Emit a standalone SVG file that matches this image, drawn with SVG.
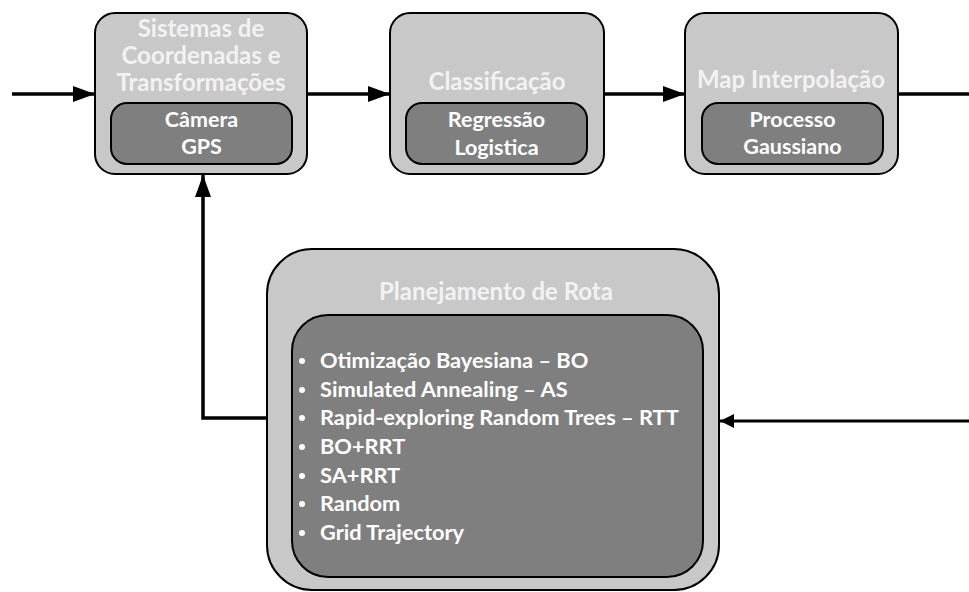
<svg xmlns="http://www.w3.org/2000/svg" width="969" height="592" viewBox="0 0 969 592">
  <defs>
    <style>
      .outer { fill: #c8c8c8; stroke: #000; stroke-width: 2; }
      .inner { fill: #7f7f7f; stroke: #000; stroke-width: 2; }
      .title { font-family: Lato, "Open Sans", sans-serif; font-weight: bold; font-size: 24px; fill: #f2f2f2; text-anchor: middle; }
      .sub { font-family: Lato, "Open Sans", sans-serif; font-weight: bold; font-size: 21.5px; fill: #ffffff; text-anchor: middle; }
      .item { font-family: Lato, "Open Sans", sans-serif; font-weight: bold; font-size: 21.8px; fill: #ffffff; }
      .wire { fill: none; stroke: #000; stroke-width: 3.5; }
      .wire-thin { fill: none; stroke: #000; stroke-width: 3; }
    </style>
    <marker id="arrow" markerUnits="userSpaceOnUse" markerWidth="24" markerHeight="16" refX="22" refY="8" orient="auto">
      <path d="M0,0 L22,8 L0,16 z" fill="#000"/>
    </marker>
    <marker id="arrow-small" markerUnits="userSpaceOnUse" markerWidth="16" markerHeight="14" refX="14" refY="7" orient="auto">
      <path d="M0,0 L14,7 L0,14 z" fill="#000"/>
    </marker>
  </defs>

  <g id="connectors">
    <line class="wire" x1="12" y1="94" x2="95" y2="94" marker-end="url(#arrow)"/>
    <line class="wire" x1="307" y1="94" x2="390" y2="94" marker-end="url(#arrow)"/>
    <line class="wire" x1="604" y1="94" x2="685" y2="94" marker-end="url(#arrow)"/>
    <line class="wire" x1="898" y1="94" x2="969" y2="94"/>
    <path class="wire" d="M267,418 L203,418 L203,175" marker-end="url(#arrow)"/>
    <line class="wire-thin" x1="969" y1="421" x2="720" y2="421" marker-end="url(#arrow-small)"/>
  </g>

  <g id="node-sistemas">
    <rect class="outer" x="95" y="13" width="212" height="161" rx="20"/>
    <text class="title" x="201" y="37">Sistemas de</text>
    <text class="title" x="201" y="64">Coordenadas e</text>
    <text class="title" x="201" y="91">Transformações</text>
    <rect class="inner" x="111" y="103" width="181" height="61" rx="16"/>
    <text class="sub" x="201.5" y="127">Câmera</text>
    <text class="sub" x="201.5" y="154">GPS</text>
  </g>

  <g id="node-classificacao">
    <rect class="outer" x="390" y="13" width="214" height="161" rx="20"/>
    <text class="title" x="497" y="90">Classificação</text>
    <rect class="inner" x="406" y="103" width="181" height="61" rx="16"/>
    <text class="sub" x="496.5" y="127">Regressão</text>
    <text class="sub" x="496.5" y="155">Logistica</text>
  </g>

  <g id="node-interpolacao">
    <rect class="outer" x="685" y="13" width="213" height="161" rx="20"/>
    <text class="title" x="791" y="88">Map Interpolação</text>
    <rect class="inner" x="702" y="103" width="181" height="61" rx="16"/>
    <text class="sub" x="792.5" y="127">Processo</text>
    <text class="sub" x="792.5" y="154">Gaussiano</text>
  </g>

  <g id="node-planejamento">
    <rect class="outer" x="267" y="249" width="452" height="341" rx="45"/>
    <text class="title" x="496" y="300">Planejamento de Rota</text>
    <rect class="inner" x="292" y="315" width="411" height="262" rx="36"/>
    <g fill="#ffffff">
      <circle cx="302" cy="361" r="3"/>
      <circle cx="302" cy="390" r="3"/>
      <circle cx="302" cy="418" r="3"/>
      <circle cx="302" cy="447" r="3"/>
      <circle cx="302" cy="476" r="3"/>
      <circle cx="302" cy="504" r="3"/>
      <circle cx="302" cy="533" r="3"/>
    </g>
    <text class="item" x="320" y="368">Otimização Bayesiana – BO</text>
    <text class="item" x="320" y="397">Simulated Annealing – AS</text>
    <text class="item" x="320" y="425">Rapid-exploring Random Trees – RTT</text>
    <text class="item" x="320" y="454">BO+RRT</text>
    <text class="item" x="320" y="483">SA+RRT</text>
    <text class="item" x="320" y="511">Random</text>
    <text class="item" x="320" y="540">Grid Trajectory</text>
  </g>
</svg>
